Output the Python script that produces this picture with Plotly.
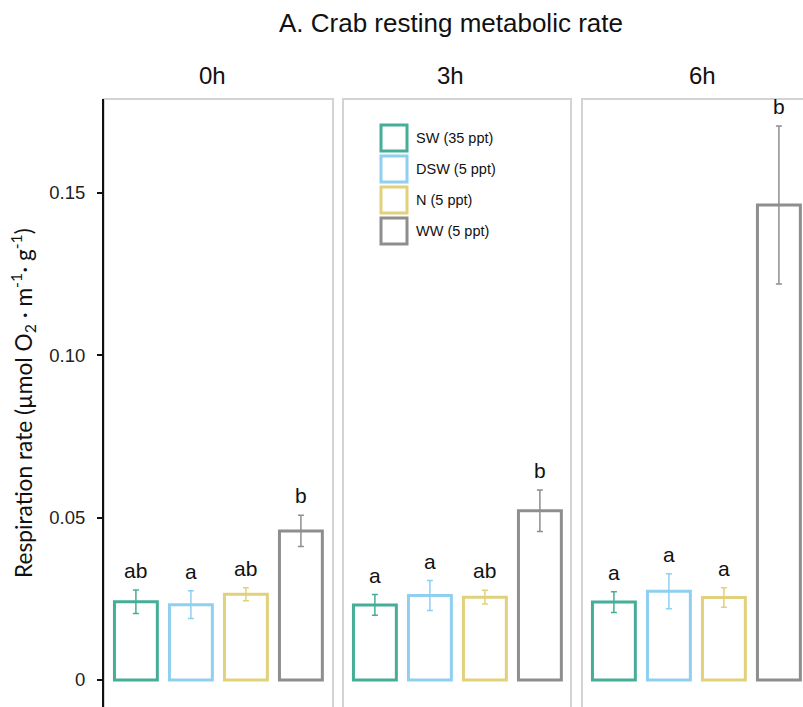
import plotly.graph_objects as go

# Treatments and their outline colours
treatments = ["SW", "DSW", "N", "WW"]
legend_labels = ["SW (35 ppt)", "DSW (5 ppt)", "N (5 ppt)", "WW (5 ppt)"]
colors = ["#46ae97", "#8fd0f0", "#e2d17c", "#8e8e8e"]

# Sampling times (one panel each)
times = ["0h", "3h", "6h"]

# Mean respiration rate per treatment at each time
rate_0h = [0.0241, 0.0232, 0.0264, 0.0459]
rate_3h = [0.0231, 0.0260, 0.0255, 0.0521]
rate_6h = [0.0240, 0.0273, 0.0254, 0.1462]

# Standard errors
se_0h = [0.0036, 0.0043, 0.0020, 0.0048]
se_3h = [0.0032, 0.0046, 0.0021, 0.0064]
se_6h = [0.0032, 0.0054, 0.0030, 0.0243]

# Significance letters
letters_0h = ["ab", "a", "ab", "b"]
letters_3h = ["a", "a", "ab", "b"]
letters_6h = ["a", "a", "a", "b"]

# Axis ticks
y_tickvals = [0, 0.05, 0.10, 0.15]
y_ticktext = ["0", "0.05", "0.10", "0.15"]

rates = [rate_0h, rate_3h, rate_6h]
ses = [se_0h, se_3h, se_6h]
letters = [letters_0h, letters_3h, letters_6h]

W, H = 803, 707
FONT = "Liberation Sans, Arial, sans-serif"

# Panel extents in pixels (left, right); last panel runs past the page edge
panel_px = [(104, 333), (343, 571), (582, 810)]
header_px = [212, 450, 702]
top_px = 99
unit_px = 55.0  # pixels per category slot
left_pad = 0.58

fig = go.Figure()

for p in range(3):
    xa = "x" if p == 0 else f"x{p+1}"
    for i, t in enumerate(treatments):
        fig.add_trace(go.Bar(
            x=[t], y=[rates[p][i]],
            xaxis=xa, yaxis="y",
            width=0.78,
            marker=dict(color="rgba(255,255,255,0)",
                        line=dict(color=colors[i], width=3)),
            error_y=dict(type="data", array=[ses[p][i]], visible=True,
                         color=colors[i], thickness=1.5, width=3),
            showlegend=False,
            hoverinfo="skip",
        ))
        fig.add_annotation(
            x=t, y=rates[p][i] + ses[p][i], xref=xa, yref="y",
            text=letters[p][i], showarrow=False,
            xanchor="center", yanchor="bottom",
            yshift=6, font=dict(family=FONT, size=21, color="#111111"),
        )

layout_axes = {}
for p in range(3):
    l, r = panel_px[p]
    r_vis = min(r, W)
    key = "xaxis" if p == 0 else f"xaxis{p+1}"
    span = (r_vis - l) / unit_px
    layout_axes[key] = dict(
        domain=[l / W, r_vis / W],
        type="category",
        categoryorder="array", categoryarray=treatments,
        range=[-left_pad, -left_pad + span],
        showticklabels=False, showgrid=False, zeroline=False,
        showline=False, ticks="",
        anchor="y",
    )
    # panel frame
    fig.add_shape(
        type="rect", xref="paper", yref="paper",
        x0=l / W, x1=r / W, y0=-0.05, y1=1 - top_px / H,
        line=dict(color="#d3d3d3", width=2), layer="below",
    )
    # panel header
    fig.add_annotation(
        x=header_px[p] / W, y=1 - 75 / H, xref="paper", yref="paper",
        text=times[p], showarrow=False,
        xanchor="center", yanchor="middle",
        font=dict(family=FONT, size=24, color="#111111"),
    )

y_bottom_px = 707
zero_px = 680
scale = (680 - 192.7) / 0.15  # px per unit
y_min = -(y_bottom_px - zero_px) / scale
y_max = (zero_px - top_px) / scale

fig.update_layout(
    **layout_axes,
    yaxis=dict(
        domain=[0, 1 - top_px / H],
        range=[y_min, y_max],
        tickvals=y_tickvals, ticktext=y_ticktext,
        ticks="outside", ticklen=5, tickwidth=1.5, tickcolor="#111111",
        showline=True, linecolor="#111111", linewidth=2,
        showgrid=False, zeroline=False,
        tickfont=dict(family=FONT, size=18.5, color="#222222"),
        ticklabelstandoff=8,
        anchor="x",
    ),
    barmode="overlay",
    width=W, height=H,
    margin=dict(l=0, r=0, t=0, b=0),
    paper_bgcolor="white", plot_bgcolor="rgba(0,0,0,0)",
    showlegend=False,
)

# Chart title
fig.add_annotation(
    x=451 / W, y=1 - 23 / H, xref="paper", yref="paper",
    text="A. Crab resting metabolic rate", showarrow=False,
    xanchor="center", yanchor="middle",
    font=dict(family=FONT, size=26, color="#111111"),
)

# Y-axis title
fig.add_annotation(
    x=22 / W, y=1 - 403 / H, xref="paper", yref="paper",
    text="Respiration rate (µmol O<sub>2</sub> · m<sup>-1</sup>· g<sup>-1</sup>)",
    showarrow=False, textangle=-90,
    xanchor="center", yanchor="middle",
    font=dict(family="Lato, sans-serif", size=22.7, color="#111111"),
)

# Legend drawn as outlined squares with labels
leg_x0, leg_y0, box, pitch = 381, 125, 26, 31
for i, lab in enumerate(legend_labels):
    y0 = leg_y0 + i * pitch
    fig.add_shape(
        type="rect", xref="paper", yref="paper",
        x0=leg_x0 / W, x1=(leg_x0 + box) / W,
        y0=1 - (y0 + box) / H, y1=1 - y0 / H,
        line=dict(color=colors[i], width=3), fillcolor="white",
    )
    fig.add_annotation(
        x=(leg_x0 + box + 7) / W, y=1 - (y0 + box / 2) / H,
        xref="paper", yref="paper", text=lab, showarrow=False,
        xanchor="left", yanchor="middle",
        font=dict(family=FONT, size=14.5, color="#111111"),
    )

fig.write_html("out.html")
